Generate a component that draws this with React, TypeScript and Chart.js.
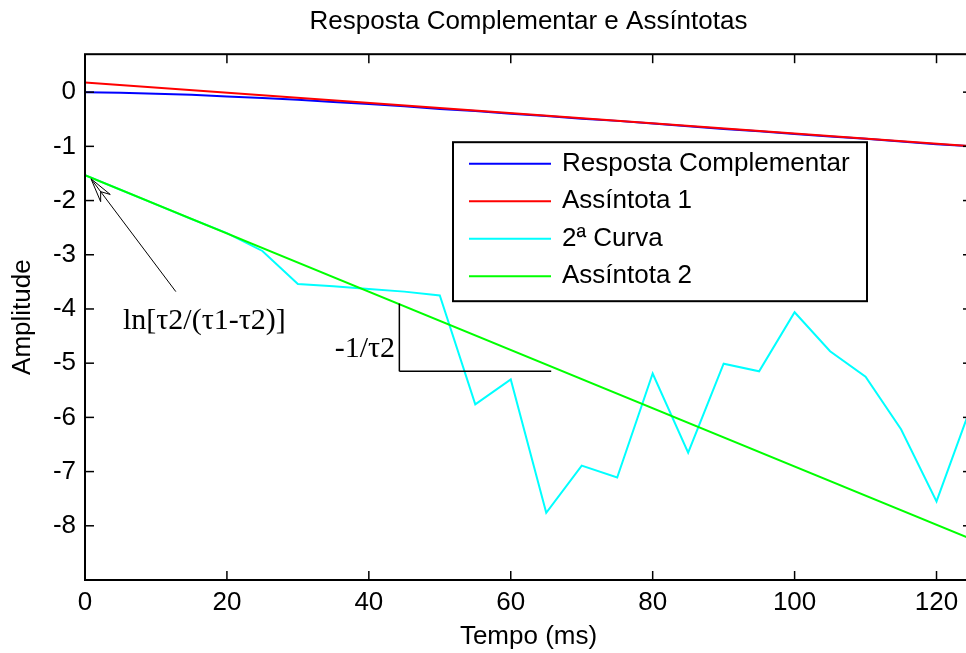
import React, { useEffect, useRef } from "react";
import { Chart, registerables } from "chart.js";

Chart.register(...registerables);

// Sample instants (ms)
const times = [0, 5, 10, 15, 20, 25, 30, 35, 40, 45, 50, 55, 60, 65, 70, 75, 80, 85, 90, 95, 100, 105, 110, 115, 120, 125];

// ln of the complementary response
const respostaComplementar = [0, -0.01, -0.03, -0.05, -0.08, -0.11, -0.14, -0.18, -0.22, -0.26, -0.31, -0.35, -0.4, -0.44, -0.49, -0.53, -0.58, -0.63, -0.68, -0.72, -0.77, -0.82, -0.86, -0.91, -0.96, -1.0];

// First asymptote (straight line)
const assintota1Times = [0, 125];
const assintota1 = [0.18, -1.0];

// Second curve (ln of the residue)
const segundaCurva = [-1.53, -1.8, -2.07, -2.34, -2.6, -2.93, -3.54, -3.58, -3.63, -3.68, -3.75, -5.76, -5.3, -7.76, -6.89, -7.11, -5.19, -6.65, -5.01, -5.15, -4.06, -4.78, -5.25, -6.22, -7.55, -5.75];

// Second asymptote (straight line)
const assintota2Times = [0, 125];
const assintota2 = [-1.53, -8.25];

const xTicks = [0, 20, 40, 60, 80, 100, 120];
const yTicks = [0, -1, -2, -3, -4, -5, -6, -7, -8];

const seriesLabels = ["Resposta Complementar", "Assíntota 1", "2ª Curva", "Assíntota 2"];
const seriesColors = ["#0000ff", "#ff0000", "#00ffff", "#00ff00"];

const SANS = "'Liberation Sans', Arial, sans-serif";
const SERIF = "'Liberation Serif', 'Times New Roman', serif";

const pairs = (xs: number[], ys: number[]) => xs.map((x, i) => ({ x, y: ys[i] }));

// Box, inward ticks, annotations and the in-plot legend
const framePlugin = {
  id: "frame",
  afterDatasetsDraw(chart: any) {
    const { ctx, chartArea: a, scales } = chart;
    const xs = scales.x;
    const ys = scales.y;
    const px = (v: number) => xs.getPixelForValue(v);
    const py = (v: number) => ys.getPixelForValue(v);
    const seg = (x1: number, y1: number, x2: number, y2: number) => {
      ctx.beginPath();
      ctx.moveTo(x1, y1);
      ctx.lineTo(x2, y2);
      ctx.stroke();
    };

    ctx.save();
    ctx.strokeStyle = "#000";
    ctx.fillStyle = "#000";

    // slope triangle for the second asymptote
    ctx.lineWidth = 1.5;
    seg(px(44.3), py(-3.9), px(44.3), py(-5.15));
    seg(px(44.3), py(-5.15), px(65.7), py(-5.15));

    // arrow towards the intercept
    const tx = px(12.8), ty = py(-3.68);
    const hx = px(0.85), hy = py(-1.6);
    ctx.lineWidth = 1;
    seg(tx, ty, hx, hy);
    const dx = tx - hx, dy = ty - hy;
    const len = Math.hypot(dx, dy);
    const ux = dx / len, uy = dy / len;
    const nx = -uy, ny = ux;
    const hl = 24, hw = 6, back = 16;
    ctx.beginPath();
    ctx.moveTo(hx, hy);
    ctx.lineTo(hx + ux * hl + nx * hw, hy + uy * hl + ny * hw);
    ctx.lineTo(hx + ux * back, hy + uy * back);
    ctx.lineTo(hx + ux * hl - nx * hw, hy + uy * hl - ny * hw);
    ctx.closePath();
    ctx.stroke();

    ctx.font = `30px ${SERIF}`;
    ctx.textBaseline = "middle";
    ctx.textAlign = "left";
    ctx.fillText("ln[τ2/(τ1-τ2)]", px(5.35), py(-4.22));
    ctx.textAlign = "right";
    ctx.fillText("-1/τ2", px(43.7), py(-4.75));

    // axes box
    ctx.lineWidth = 2;
    ctx.strokeRect(a.left, a.top, a.right - a.left, a.bottom - a.top);

    // inward ticks on all four sides
    ctx.lineWidth = 1.5;
    const tl = 9;
    xTicks.forEach((v) => {
      const p = px(v);
      seg(p, a.bottom, p, a.bottom - tl);
      seg(p, a.top, p, a.top + tl);
    });
    yTicks.forEach((v) => {
      const p = py(v);
      seg(a.left, p, a.left + tl, p);
      seg(a.right, p, a.right - tl, p);
    });

    // legend
    const lx = a.left + 368;
    const ly = a.top + 88;
    const lw = 414;
    const lh = 159;
    ctx.fillStyle = "#fff";
    ctx.fillRect(lx, ly, lw, lh);
    ctx.lineWidth = 2;
    ctx.strokeStyle = "#000";
    ctx.strokeRect(lx, ly, lw, lh);
    ctx.font = `26px ${SANS}`;
    ctx.textAlign = "left";
    ctx.textBaseline = "middle";
    seriesLabels.forEach((label, i) => {
      const cy = ly + 21.5 + i * 37.5;
      ctx.strokeStyle = seriesColors[i];
      ctx.lineWidth = 2;
      seg(lx + 16, cy, lx + 98, cy);
      ctx.fillStyle = "#000";
      ctx.fillText(label, lx + 109, cy);
    });

    ctx.restore();
  },
};

export default function App() {
  const canvasRef = useRef<HTMLCanvasElement | null>(null);

  useEffect(() => {
    if (!canvasRef.current) return;
    const textFont = { family: SANS, size: 26, weight: "normal" as const };
    const chart = new Chart(canvasRef.current, {
      type: "line",
      data: {
        datasets: [
          {
            label: seriesLabels[0],
            data: pairs(times, respostaComplementar),
            borderColor: seriesColors[0],
            borderWidth: 2,
            pointRadius: 0,
            order: 3,
          },
          {
            label: seriesLabels[1],
            data: pairs(assintota1Times, assintota1),
            borderColor: seriesColors[1],
            borderWidth: 2,
            pointRadius: 0,
            order: 2,
          },
          {
            label: seriesLabels[2],
            data: pairs(times, segundaCurva),
            borderColor: seriesColors[2],
            borderWidth: 2,
            pointRadius: 0,
            order: 1,
          },
          {
            label: seriesLabels[3],
            data: pairs(assintota2Times, assintota2),
            borderColor: seriesColors[3],
            borderWidth: 2,
            pointRadius: 0,
            order: 0,
          },
        ],
      },
      options: {
        animation: false,
        responsive: false,
        devicePixelRatio: 1,
        layout: { padding: { left: 0, right: 8, top: 0, bottom: 0 } },
        elements: { line: { tension: 0, fill: false } },
        plugins: {
          legend: { display: false },
          tooltip: { enabled: false },
          title: {
            display: true,
            text: "Resposta Complementar e Assíntotas",
            color: "#000",
            font: textFont,
            padding: { top: 6, bottom: 17 },
            fullSize: false,
          },
        },
        scales: {
          x: {
            type: "linear",
            min: 0,
            max: 125,
            grid: { display: false, drawTicks: false },
            border: { display: false },
            ticks: {
              color: "#000",
              font: textFont,
              padding: 7,
              maxRotation: 0,
              autoSkip: false,
              callback: (v: any) => String(v),
            },
            title: {
              display: true,
              text: "Tempo (ms)",
              color: "#000",
              font: textFont,
              padding: { top: 0, bottom: 1 },
            },
            afterBuildTicks: (s: any) => {
              s.ticks = xTicks.map((value) => ({ value }));
            },
            afterFit: (s: any) => {
              s.height = 73;
            },
          },
          y: {
            type: "linear",
            min: -9,
            max: 0.7,
            grid: { display: false, drawTicks: false },
            border: { display: false },
            ticks: {
              color: "#000",
              font: textFont,
              padding: 9,
              autoSkip: false,
              callback: (v: any) => String(v),
            },
            title: {
              display: true,
              text: "Amplitude",
              color: "#000",
              font: textFont,
              padding: { top: 7, bottom: 0 },
            },
            afterBuildTicks: (s: any) => {
              s.ticks = yTicks.map((value) => ({ value }));
            },
            afterFit: (s: any) => {
              s.width = 85;
            },
          },
        },
      },
      plugins: [framePlugin],
    });
    return () => chart.destroy();
  }, []);

  return (
    <div
      style={{
        position: "fixed",
        left: 0,
        top: 0,
        width: 966,
        height: 653,
        overflow: "hidden",
        background: "#fff",
      }}
    >
      <canvas ref={canvasRef} width={980} height={653} style={{ display: "block", width: 980, height: 653 }} />
    </div>
  );
}
